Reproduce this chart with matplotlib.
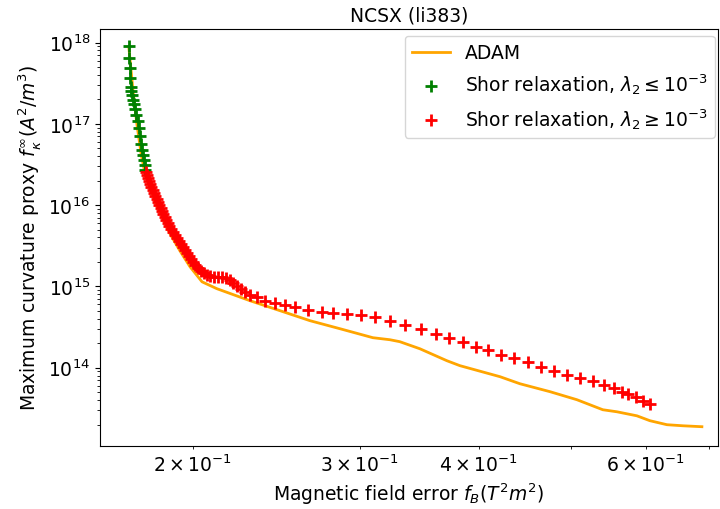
import matplotlib
matplotlib.use('AGG')
import matplotlib.pyplot as plt

# ADAM optimisation curve
adam_fb = [0.1714, 0.1730, 0.1747, 0.1765, 0.1782, 0.1803, 0.1834, 0.1893, 0.1939,
           0.1987, 0.2046, 0.2121, 0.2298, 0.2490, 0.2658, 0.2858, 0.3096, 0.3226,
           0.3305, 0.3470, 0.3704, 0.3823, 0.4214, 0.4422, 0.4757, 0.5077, 0.5406,
           0.5594, 0.5872, 0.6059, 0.6315, 0.6566, 0.6874]
adam_fk = [8.4e17, 2.7e17, 1.0e17, 4.3e16, 2.44e16, 1.6e16, 9.9e15, 4.46e15, 2.75e15,
           1.75e15, 1.14e15, 9.38e14, 6.68e14, 4.89e14, 3.79e14, 3.02e14, 2.34e14, 2.21e14,
           2.09e14, 1.71e14, 1.22e14, 1.06e14, 7.75e13, 6.35e13, 5.07e13, 4.04e13, 3.04e13,
           2.87e13, 2.56e13, 2.23e13, 1.99e13, 1.93e13, 1.88e13]

# Shor relaxation, lambda_2 <= 1e-3
shor_lo_fb = [0.1714, 0.1714, 0.1718, 0.1718, 0.1722, 0.1724, 0.1727, 0.1730, 0.1735,
              0.1739, 0.1743, 0.1750, 0.1754, 0.1760, 0.1765, 0.1769, 0.1773, 0.1777,
              0.1782, 0.1782]
shor_lo_fk = [9.18e17, 6.54e17, 4.92e17, 3.71e17, 2.87e17, 2.56e17, 2.29e17, 1.99e17,
              1.77e17, 1.54e17, 1.30e17, 1.10e17, 8.99e16, 7.17e16, 5.71e16, 4.82e16,
              4.19e16, 3.63e16, 3.15e16, 2.73e16]

# Shor relaxation, lambda_2 >= 1e-3
shor_hi_fb = [0.1786, 0.1790, 0.1795, 0.1799, 0.1803, 0.1808, 0.1817, 0.1821, 0.1825,
              0.1834, 0.1839, 0.1843, 0.1852, 0.1857, 0.1861, 0.1870, 0.1875, 0.1884,
              0.1888, 0.1898, 0.1907, 0.1916, 0.1925, 0.1935, 0.1944, 0.1954, 0.1963,
              0.1973, 0.1982, 0.1992, 0.2001, 0.2011, 0.2026, 0.2041, 0.2056, 0.2071,
              0.2086, 0.2106, 0.2126, 0.2147, 0.2168, 0.2189, 0.2205, 0.2227, 0.2248,
              0.2270, 0.2298, 0.2337, 0.2383, 0.2441, 0.2501, 0.2563, 0.2645, 0.2736,
              0.2810, 0.2907, 0.3007, 0.3111, 0.3226, 0.3345, 0.3478, 0.3606, 0.3722,
              0.3851, 0.3974, 0.4092, 0.4223, 0.4358, 0.4508, 0.4653, 0.4802, 0.4955,
              0.5114, 0.5277, 0.5420, 0.5553, 0.5661, 0.5744, 0.5857, 0.5957, 0.6059]
shor_hi_fk = [2.58e16, 2.37e16, 2.18e16, 2.00e16, 1.84e16, 1.69e16, 1.55e16, 1.43e16, 1.31e16,
              1.20e16, 1.10e16, 1.01e16, 9.3e15, 8.56e15, 7.86e15, 7.22e15, 6.63e15, 6.09e15,
              5.59e15, 5.14e15, 4.72e15, 4.33e15, 3.98e15, 3.66e15, 3.36e15, 3.08e15, 2.83e15,
              2.60e15, 2.39e15, 2.20e15, 2.02e15, 1.85e15, 1.70e15, 1.56e15, 1.48e15, 1.40e15,
              1.36e15, 1.32e15, 1.32e15, 1.32e15, 1.28e15, 1.21e15, 1.11e15, 1.02e15, 9.38e14,
              8.62e14, 7.92e14, 7.48e14, 6.68e14, 6.31e14, 5.96e14, 5.63e14, 5.17e14, 4.89e14,
              4.75e14, 4.62e14, 4.49e14, 4.24e14, 3.79e14, 3.38e14, 3.02e14, 2.62e14, 2.34e14,
              2.09e14, 1.81e14, 1.67e14, 1.45e14, 1.33e14, 1.19e14, 1.03e14, 9.19e13, 8.20e13,
              7.53e13, 6.92e13, 6.18e13, 5.67e13, 5.07e13, 4.79e13, 4.40e13, 3.93e13, 3.61e13]

plt.rcParams['font.size'] = 13.5

fig = plt.figure(figsize=(7.2, 5.1), dpi=100)
ax = fig.add_axes([0.139, 0.124, 0.858, 0.818])

ax.plot(adam_fb, adam_fk, color='orange', lw=2, label='ADAM')
ax.scatter(shor_lo_fb, shor_lo_fk, marker='+', color='green', s=75, linewidths=2,
           label=r'Shor relaxation, $\lambda_2 \leq 10^{-3}$', zorder=3)
ax.scatter(shor_hi_fb, shor_hi_fk, marker='+', color='red', s=75, linewidths=2,
           label=r'Shor relaxation, $\lambda_2 \geq 10^{-3}$', zorder=3)

ax.set_xscale('log')
ax.set_yscale('log')
ax.set_xlim(0.1598, 0.7145)
ax.set_ylim(1.096e13, 1.487e18)

ax.set_title('NCSX (li383)', fontsize=13.5)
ax.set_xlabel(r'Magnetic field error $f_B (T^2 m^2)$')
ax.set_ylabel(r'Maximum curvature proxy $f_\kappa^\infty (A^2/m^3)$')
ax.legend(loc='upper right', bbox_to_anchor=(0.995, 0.983), borderaxespad=0)

fig.savefig('out.png', dpi=100)
